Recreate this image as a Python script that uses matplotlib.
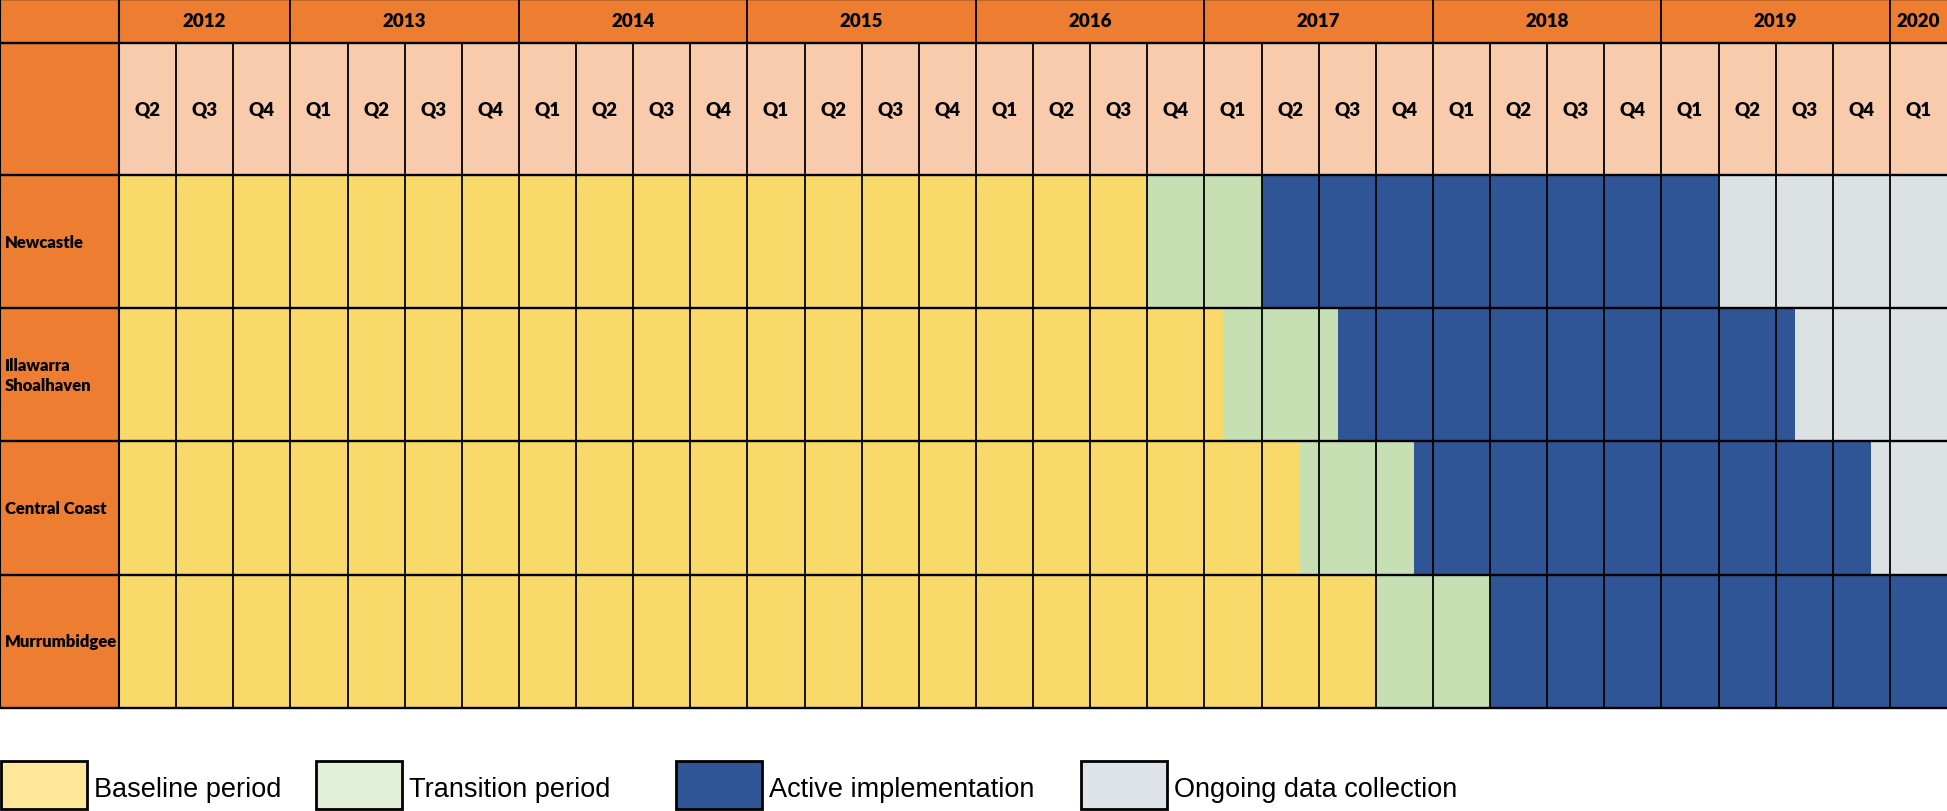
import matplotlib.pyplot as plt
from matplotlib.patches import Rectangle

# header data
years = ['2012', '2013', '2014', '2015', '2016', '2017', '2018', '2019', '2020']
quarters_in_year = [3, 4, 4, 4, 4, 4, 4, 4, 1]
first_quarter = 2  # timeline starts at 2012 Q2

sites = ['Newcastle', 'Illawarra\nShoalhaven', 'Central Coast', 'Murrumbidgee']
# end of each phase, in months counted from the start of 2012 Q2
baseline_end = [54, 58, 62, 66]
transition_end = [60, 64, 68, 72]
active_end = [84, 88, 92, 96]
study_end = 96

phases = ['Baseline period', 'Transition period', 'Active implementation', 'Ongoing data collection']
cell_colors = ['#FAD96B', '#C6E0B4', '#2F5597', '#DCE1E4']
legend_colors = ['#FFE699', '#E2F0D9', '#2F5597', '#DEE3EA']

ORANGE = '#ED7D31'
PEACH = '#F8CBAD'
n_q = sum(quarters_in_year)
LW = 119 / 57.1          # width of the label column, in quarters
YEAR_H = 0.33
QTR_H = 0.99
top = YEAR_H + QTR_H
bottom = top + len(sites)

fig = plt.figure(figsize=(19.47, 8.12), dpi=100)
ax = fig.add_axes([0, 103 / 812, 1, 709 / 812])
ax.set_xlim(-LW, n_q)
ax.set_ylim(bottom, 0)
ax.axis('off')

# header backgrounds
ax.add_patch(Rectangle((-LW, 0), LW + n_q, YEAR_H, color=ORANGE, lw=0))
ax.add_patch(Rectangle((-LW, 0), LW, bottom, color=ORANGE, lw=0))
ax.add_patch(Rectangle((0, YEAR_H), n_q, QTR_H, color=PEACH, lw=0))

# phase bars
for i, site in enumerate(sites):
    bounds = [0, baseline_end[i], transition_end[i], active_end[i], study_end]
    for k in range(4):
        w = (bounds[k + 1] - bounds[k]) / 3
        if w > 0:
            ax.barh(top + i + 0.5, w, left=bounds[k] / 3, height=1,
                    color=cell_colors[k], linewidth=0)
    ax.text(-LW + 0.08, top + i + 0.5, site, ha='left', va='center',
            fontsize=12, fontweight='heavy', family='Lato', linespacing=1.3)

# year and quarter labels
pos = 0
year_edges = [0]
for y, nq in zip(years, quarters_in_year):
    ax.text(pos + nq / 2, YEAR_H / 2, y, ha='center', va='center',
            fontsize=13.5, fontweight='heavy', family='Lato')
    pos += nq
    year_edges.append(pos)

q = first_quarter
for j in range(n_q):
    ax.text(j + 0.5, YEAR_H + QTR_H / 2, 'Q%d' % q, ha='center', va='center',
            fontsize=13.5, fontweight='heavy', family='Lato')
    q = q % 4 + 1

# grid lines
ax.vlines(range(1, n_q), YEAR_H, bottom, color='black', lw=1.3)
ax.vlines(year_edges[1:-1], 0, YEAR_H, color='black', lw=1.3)
ax.vlines([-LW, 0], 0, bottom, color='black', lw=1.5, clip_on=False)
ax.hlines([0, YEAR_H, top] + [top + i + 1 for i in range(len(sites))],
          -LW, n_q, color='black', lw=1.7, clip_on=False)

# legend
lax = fig.add_axes([0, 0, 1, 103 / 812])
lax.set_xlim(0, 1947)
lax.set_ylim(0, 103)
lax.axis('off')
box_x = [1, 316, 676, 1081]
for x, c, label in zip(box_x, legend_colors, phases):
    lax.add_patch(Rectangle((x, 2), 86, 48, facecolor=c, edgecolor='black', lw=2))
    lax.text(x + 93, 15, label, ha='left', va='baseline', fontsize=19.5,
             family='Liberation Sans')

plt.savefig('out.png', dpi=100)
